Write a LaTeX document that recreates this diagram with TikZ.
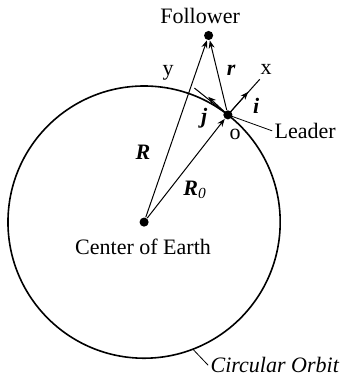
\documentclass[tikz,border=0pt]{standalone}
\usepackage{fontspec}
\setmainfont{Liberation Serif}
\usetikzlibrary{arrows.meta}

\tikzset{
  dot/.style={circle, fill, inner sep=0pt, minimum size=0.16cm},
  pointer/.style={line width=0.4pt},
}

\begin{document}
\begin{tikzpicture}[>={Stealth[length=4pt,width=3pt]}, line width=0.5pt,
    every node/.style={font=\fontsize{11}{13}\selectfont}]
    \useasboundingbox (-2.53,-2.79) rectangle (3.50,3.90);

    % --- ORBITA ---
    \draw[line width=0.8pt] (0,0) circle (2.39cm);
    \coordinate (O1) at (-69:2.39);
    \coordinate (O2) at (1.125,-2.513);
    \draw[pointer] (O1) -- (O2);
    \node[anchor=west, inner sep=1pt] (orbit) at (O2) {\textit{Circular Orbit}};

    % --- PUNKTY ---
    \node[dot] (E) at (0,0) {};
    \node (earth) at (-0.018,-0.44) {Center of Earth};
    \node[dot] (L) at (52:2.39) {};
    \node[dot] (F) at (1.133,3.277) {};
    \node (follower) at (0.984,3.62) {Follower};

    % --- UKLAD LOKALNY (x, y) ---
    \begin{scope}[shift={(52:2.39)}]
        \coordinate (X) at (0.559,0.624);
        \coordinate (Y) at (-0.587,0.470);
        \coordinate (I) at (0.357,0.404);
        \coordinate (J) at (-0.346,0.316);
        \coordinate (LP) at (0.778,-0.281);
        \draw (L.center) -- (X);
        \draw (L.center) -- (Y);
        \draw[->] (L.center) -- (I);
        \draw[->] (L.center) -- (J);
        \draw[pointer] (L.center) -- (LP);
        \node[anchor=west, inner sep=1pt] (leader) at (LP) {Leader};
        \node (o) at (0.128,-0.351) {o};
        \node (xl) at (0.673,0.791) {x};
        \node (yl) at (-1.049,0.738) {y};
        \node (il) at (0.497,0.158) {\textbf{\textit{i}}};
        \node (jl) at (-0.416,-0.053) {\textbf{\textit{j}}};
    \end{scope}

    % --- WEKTORY ---
    \draw[->] (E) -- (F);
    \draw[->] (E) -- (L);
    \draw[->] (L) -- (F);
    \node (Rl) at (-0.018,1.23) {\textbf{\textit{R}}};
    \node (R0l) at (0.896,0.562) {\textbf{\textit{R}}\textsubscript{\textit{0}}};
    \node (rl) at (1.529,2.671) {\textbf{\textit{r}}};

\end{tikzpicture}
\end{document}
